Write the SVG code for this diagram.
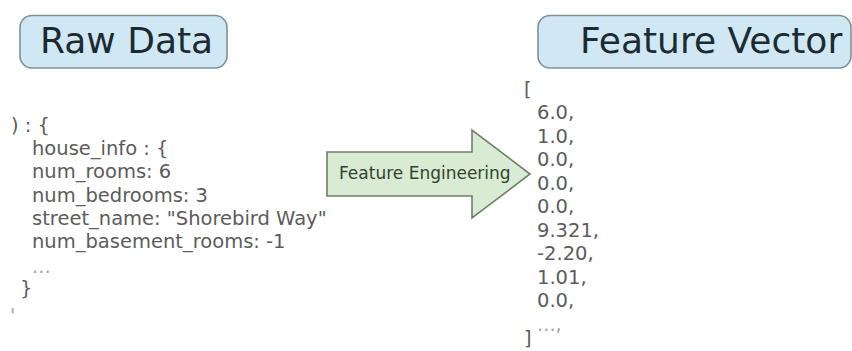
<svg xmlns="http://www.w3.org/2000/svg" width="852" height="351" viewBox="0 0 852 351">
  <style>
    .title-box { fill: #cfe8f4; stroke: #7f9099; stroke-width: 1.6; }
    .title { font-family: "DejaVu Sans", sans-serif; font-size: 36px; fill: #1d2a31; }
    .code { font-family: "DejaVu Sans", sans-serif; font-size: 19.5px; fill: #5c5c5c; }
    .faint { fill: #a8a8a8; }
    .arrow { fill: #d9ebd3; stroke: #6f7d6a; stroke-width: 1.6; stroke-linejoin: miter; }
    .arrow-label { font-family: "DejaVu Sans", sans-serif; font-size: 17px; fill: #33432f; }
  </style>

  <rect width="852" height="351" fill="#ffffff"/>

  <!-- Left heading -->
  <g id="raw-data">
    <rect class="title-box" x="20" y="15.5" width="207" height="52.5" rx="12"/>
    <text class="title" x="40" y="53">Raw Data</text>
  </g>

  <!-- Right heading (runs off the right edge) -->
  <g id="feature-vector">
    <rect class="title-box" x="538" y="15.5" width="313" height="52.5" rx="12"/>
    <text class="title" x="580" y="53">Feature Vector</text>
  </g>

  <!-- Raw record -->
  <g id="raw-record" class="code">
    <text x="11" y="132">) : {</text>
    <text x="32" y="155">house_info : {</text>
    <text x="32" y="178">num_rooms: 6</text>
    <text x="32" y="201.5">num_bedrooms: 3</text>
    <text x="32" y="225">street_name: "Shorebird Way"</text>
    <text x="32" y="248">num_basement_rooms: -1</text>
    <text class="faint" x="32" y="273">...</text>
    <text x="20" y="295">}</text>
    <text class="faint" x="10" y="322">'</text>
  </g>

  <!-- Numeric vector -->
  <g id="vector-values" class="code">
    <text x="524" y="95.5">[</text>
    <text x="537" y="119">6.0,</text>
    <text x="537" y="142.5">1.0,</text>
    <text x="537" y="166">0.0,</text>
    <text x="537" y="189.5">0.0,</text>
    <text x="537" y="213">0.0,</text>
    <text x="537" y="236.5">9.321,</text>
    <text x="537" y="260">-2.20,</text>
    <text x="537" y="283.5">1.01,</text>
    <text x="537" y="307">0.0,</text>
    <text class="faint" x="537" y="331">...,</text>
    <text x="524" y="345">]</text>
  </g>

  <!-- Transformation arrow -->
  <g id="connectors">
    <g id="feature-engineering">
      <polygon class="arrow" points="327,152 472,152 472,130 530,174 472,218 472,196 327,196"/>
      <text class="arrow-label" x="339" y="179">Feature Engineering</text>
    </g>
  </g>
</svg>
